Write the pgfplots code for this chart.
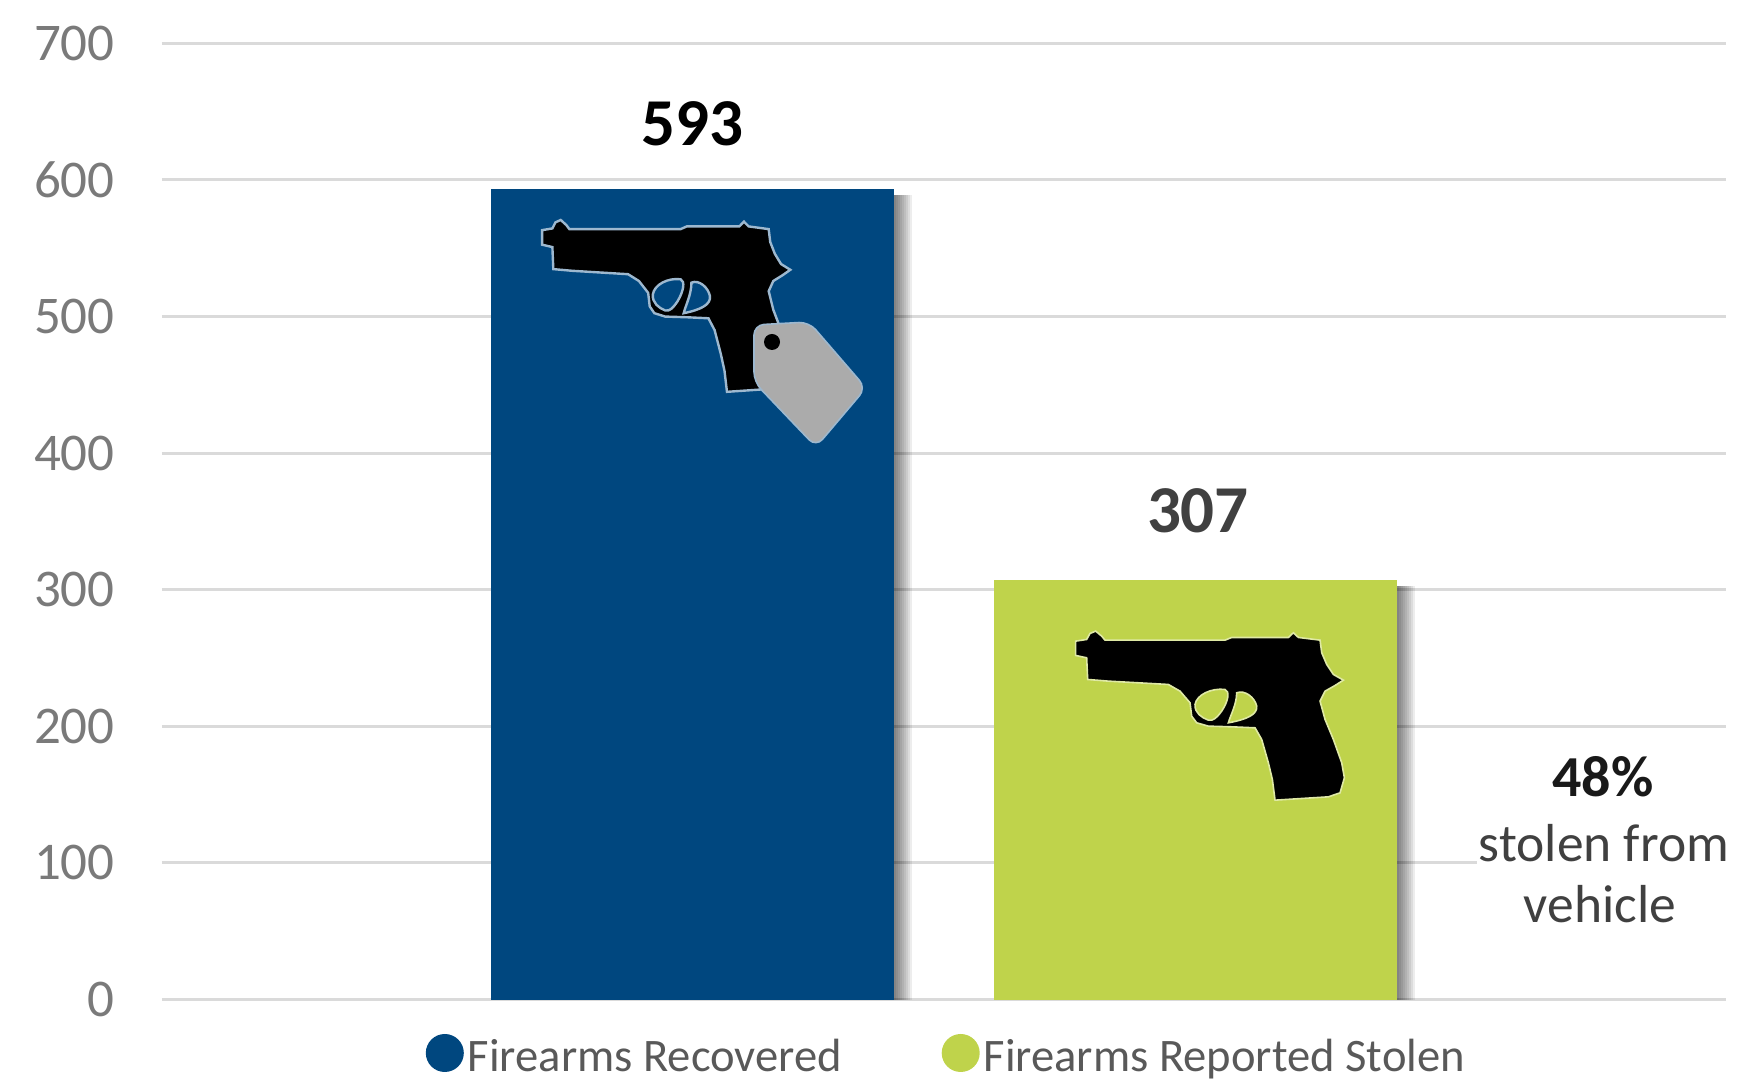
\documentclass[border=0pt]{standalone}
\usepackage{fontspec}
\setmainfont{Carlito}
\usepackage{pgfplots}
\pgfplotsset{compat=1.18}
\definecolor{barblue}{HTML}{00477F}
\definecolor{bargreen}{HTML}{BFD34B}
\definecolor{gridgray}{HTML}{DADADA}
\definecolor{ticktext}{HTML}{7A7A7A}
\definecolor{legtext}{HTML}{595959}
\definecolor{tagfill}{HTML}{ABABAB}
\definecolor{gunedge}{HTML}{9DB8CF}

% pistol silhouette
\newcommand{\gunshape}{
  (32,55) -- (65,50) -- (75,32) -- (92,25) -- (110,40) -- (120,52) -- (480,52) -- (500,44)
  -- (670,44) -- (685,30) -- (700,44) -- (765,52) -- (770,90) -- (785,125) -- (805,155)
  -- (835,172) -- (810,188) -- (780,205) -- (765,235) -- (780,290) -- (805,350) -- (830,420)
  -- (838,465) -- (825,510) -- (790,522) -- (630,532) -- (622,470) -- (610,420) -- (590,350)
  -- (570,315) -- (500,312) -- (430,310) -- (395,300) -- (380,280) -- (375,240) -- (345,205)
  -- (310,185) -- (130,175) -- (68,170) -- (65,105) -- (32,98) -- cycle
  (390,245) .. controls (395,215) and (440,195) .. (480,200) .. controls (495,205) and (490,235) .. (470,265)
  .. controls (455,285) and (445,295) .. (430,292) .. controls (410,285) and (388,270) .. (390,245) -- cycle
  (515,210) .. controls (540,200) and (570,225) .. (575,250) .. controls (578,275) and (545,290) .. (490,300)
  .. controls (495,280) and (515,245) .. (515,210) -- cycle
}
\pgfplotsset{shadowbar/.style={forget plot, draw=none, fill=black, fill opacity=0.07, yshift=-3pt}}

\begin{document}
\begin{tikzpicture}
\path[use as bounding box] (0,0) rectangle (871pt,540.5pt);
\begin{axis}[
    at={(81pt,40.7pt)}, anchor=south west,
    scale only axis,
    width=782pt, height=478.2pt,
    xmin=-1.052, xmax=2.052,
    ymin=0, ymax=700,
    ytick={0,100,200,300,400,500,600,700},
    xtick=\empty,
    ymajorgrids,
    grid style={gridgray, line width=1.5pt},
    axis line style={draw=none},
    major tick length=0pt,
    /pgf/number format/assume math mode=true,
    yticklabel style={font=\fontsize{26.5}{30}\selectfont, text=ticktext, inner sep=0pt, xshift=-23.5pt},
    ybar,
    bar width=201.5pt,
    legend columns=2,
    legend style={at={(0.5,0)}, anchor=north, yshift=-15pt, xshift=1.7pt, draw=none, fill=none,
        font=\fontsize{23.3}{26}\selectfont, text=legtext,
        /tikz/every even column/.append style={column sep=48pt}},
    legend image code/.code={\fill[#1] (-1pt,0.2em) circle (9.5pt);},
]
% soft shadow right of the bars
\pgfplotsinvokeforeach{1,...,9}{
  \addplot[shadowbar, bar shift=#1pt] coordinates {(0,593)};
  \addplot[shadowbar, bar shift=#1pt] coordinates {(1,307)};
}
\addplot[draw=none, fill=barblue, bar shift=0pt,
    nodes near coords,
    nodes near coords style={font=\fontsize{33.5}{36}\bfseries\selectfont, text=black, anchor=south, inner sep=0pt, yshift=21.7pt}]
    coordinates {(0,593)};
\addlegendentry{Firearms Recovered}
\addplot[draw=none, fill=bargreen, bar shift=0pt,
    nodes near coords,
    nodes near coords style={font=\fontsize{33.5}{36}\bfseries\selectfont, text=black!75, anchor=south, inner sep=0pt, yshift=23.3pt, xshift=1pt}]
    coordinates {(1,307)};
\addlegendentry{Firearms Reported Stolen}
\end{axis}

% blue bar icon: pistol with tag
\begin{scope}[xshift=266.15pt, yshift=434.75pt, x=0.1545pt, y=-0.1695pt]
  \draw[even odd rule, fill=black, draw=gunedge, line width=1.2pt] \gunshape;
\end{scope}
\begin{scope}[x=0.5pt, y=-0.5pt, yshift=540.5pt]
  \draw[fill=tagfill, draw=gunedge, line width=0.8pt, rounded corners=5pt]
    (754,325) -- (809,322) -- (866,388) -- (816,447) -- (754,382) -- cycle;
  \fill[black] (772,342) circle (8);
  % gridline gap behind the note
  \fill[white] (1477,745) rectangle (1742,940);
  \node[font=\fontsize{29}{32}\bfseries\selectfont, text=black!90] at (1603,777) {48\%};
  \node[font=\fontsize{26.75}{30}\selectfont, text=black!75] at (1604,843) {stolen from};
  \node[font=\fontsize{26.75}{30}\selectfont, text=black!75] at (1600,904) {vehicle};
\end{scope}
% green bar icon
\begin{scope}[xshift=532.5pt, yshift=229.1pt, x=0.1667pt, y=-0.1667pt]
  \draw[even odd rule, fill=black, draw=bargreen!50!white, line width=0.8pt] \gunshape;
\end{scope}
\end{tikzpicture}
\end{document}
